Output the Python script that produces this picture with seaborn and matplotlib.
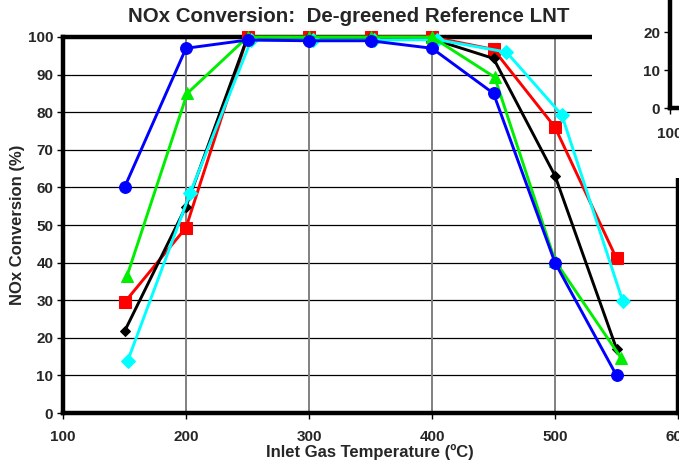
import matplotlib
matplotlib.use("Agg")
import matplotlib.pyplot as plt
import matplotlib.patches as mpatches
import seaborn as sns

# data
temps = [150, 200, 250, 300, 350, 400, 450, 500, 550]
blue_y = [60, 97, 99.2, 99, 99, 97, 85, 40, 10]
green_x = [152, 201, 250, 300, 350, 400, 451, 500, 554]
green_y = [36.4, 85, 100, 100, 100, 100, 89.3, 40.5, 14.5]
red_y = [29.4, 49.3, 100, 100, 100, 100, 96.7, 76, 41.1]
black_y = [21.7, 54.9, 100, 100, 100, 99.5, 94.3, 63.1, 17.1]
cyan_x = [152.5, 203.5, 253, 303, 353, 404, 460.5, 505.5, 555]
cyan_y = [13.8, 58.6, 99.2, 99.2, 99.2, 99.3, 96, 79.3, 29.8]

y_ticks = list(range(0, 101, 10))
x_ticks = [100, 200, 300, 400, 500, 600]
inset_y_ticks = [0, 10, 20]
inset_x_ticks = [100]

sns.set_theme(style="white")
plt.rcParams['font.family'] = ['Liberation Sans', 'DejaVu Sans']
plt.rcParams['font.weight'] = 'bold'

fig = plt.figure(figsize=(6.79, 4.65), dpi=100)
ax = fig.add_axes([63 / 679, 52 / 465, 615 / 679, 376 / 465])

# series: (x, y, color, marker, size, zorder)
series = [
    (temps, red_y, '#ff0000', 's', 8.5, 3),
    (temps, black_y, '#000000', 'D', 5.5, 4),
    (cyan_x, cyan_y, '#00ffff', 'D', 7, 5),
    (green_x, green_y, '#00ee00', '^', 8, 6),
    (temps, blue_y, '#0000ff', 'o', 8.5, 7),
]
for xs, ys, col, mk, ms, z in series:
    sns.lineplot(x=xs, y=ys, ax=ax, color=col, marker=mk, markersize=ms,
                 markeredgecolor=col, linewidth=2.1, sort=False,
                 estimator=None, legend=False, zorder=z, clip_on=False)

ax.set_xlim(100, 600)
ax.set_ylim(0, 100)
ax.set_xticks(x_ticks)
ax.set_yticks(y_ticks)
ax.tick_params(axis='both', labelsize=11, direction='out', length=4, width=1,
               color='black', left=True, bottom=True)
ax.tick_params(axis='x', pad=8)
ax.tick_params(axis='y', pad=3)
for lab in ax.get_xticklabels() + ax.get_yticklabels():
    lab.set_fontweight('bold')

for y in y_ticks[1:-1]:
    ax.axhline(y, color='black', lw=0.9, zorder=1)
for x in x_ticks[1:-1]:
    ax.axvline(x, color='#808080', lw=1.4, zorder=1)

for s in ax.spines.values():
    s.set_visible(True)
    s.set_color('black')
    s.set_linewidth(3.2)

ax.set_xlabel('Inlet Gas Temperature (ºC)', fontsize=12, fontweight='bold')
ax.set_ylabel('NOx Conversion (%)', fontsize=12, fontweight='bold')
ax.xaxis.set_label_coords((370 - 63) / 615, -(444 - 413) / 376)
ax.yaxis.set_label_coords(-(63 - 25) / 615, 0.5)

fig.text(349 / 679, 1 - 16 / 465, 'NOx Conversion:  De-greened Reference LNT',
         ha='center', va='center', fontsize=14.8, fontweight='bold')

# piece of a neighbouring chart overlapping the top-right corner
cover = mpatches.Rectangle((592 / 679, 1 - 178 / 465), 1, 1, transform=fig.transFigure,
                           facecolor='white', edgecolor='none', zorder=10)
fig.add_artist(cover)

ax2 = fig.add_axes([670 / 679, 1 - 108 / 465, 0.2, 108 / 465], zorder=11)
ax2.set_facecolor('none')
ax2.set_ylim(0, 108 / 3.8)
ax2.set_xlim(100, 300)
ax2.set_yticks(inset_y_ticks)
ax2.set_xticks(inset_x_ticks)
ax2.tick_params(axis='both', labelsize=11, direction='out', length=4, width=1,
                color='black', left=True, bottom=True)
ax2.tick_params(axis='x', pad=10)
ax2.tick_params(axis='y', pad=3)
for lab in ax2.get_xticklabels() + ax2.get_yticklabels():
    lab.set_fontweight('bold')
for side in ['top', 'right']:
    ax2.spines[side].set_visible(False)
for side in ['left', 'bottom']:
    ax2.spines[side].set_visible(True)
    ax2.spines[side].set_color('black')
    ax2.spines[side].set_linewidth(3.2)

fig.savefig('out.png', dpi=100)
